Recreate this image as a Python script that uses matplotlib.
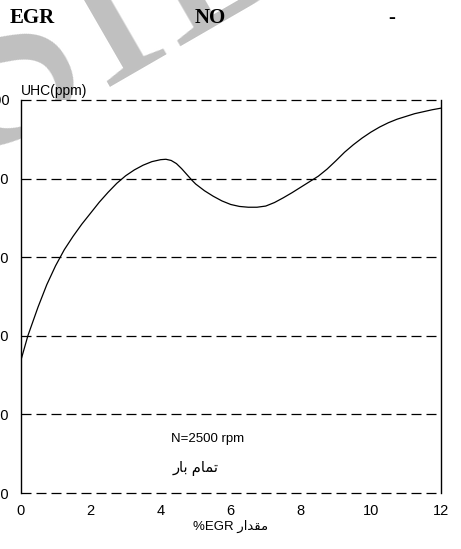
import numpy as np
import matplotlib
matplotlib.use('Agg')
from matplotlib import pyplot as plt

# EGR percentage vs unburned hydrocarbons
egr_pct = [0.0, 0.21, 0.5, 0.75, 1.0, 1.25, 1.5, 1.75, 2.0, 2.25, 2.5, 2.75, 3.0,
           3.25, 3.5, 3.75, 4.0, 4.15, 4.3, 4.45, 4.6, 4.75, 4.9, 5.0, 5.25, 5.5,
           5.75, 6.0, 6.25, 6.5, 6.75, 7.0, 7.25, 7.5, 7.75, 8.0, 8.25, 8.5, 8.75,
           9.0, 9.25, 9.5, 9.75, 10.0, 10.25, 10.5, 10.75, 11.0, 11.25, 11.5,
           11.75, 12.0]
uhc_ppm = [133.4, 140.0, 147.3, 153.0, 157.8, 161.9, 165.3, 168.4, 171.2, 174.0,
           176.5, 178.8, 180.7, 182.2, 183.4, 184.3, 184.8, 184.9, 184.6, 183.8,
           182.5, 181.0, 179.5, 178.6, 176.9, 175.5, 174.3, 173.4, 172.9, 172.7,
           172.7, 173.0, 173.9, 175.1, 176.4, 177.8, 179.2, 180.6, 182.4, 184.5,
           186.7, 188.6, 190.3, 191.8, 193.1, 194.2, 195.1, 195.8, 196.5, 197.0,
           197.5, 197.9]
x_ticks = [0, 2, 4, 6, 8, 10, 12]
y_ticks = [100, 120, 140, 160, 180, 200]

plt.rcParams['font.family'] = ['Liberation Sans', 'DejaVu Sans']
plt.rcParams['lines.scale_dashes'] = False

fig = plt.figure(figsize=(4.61, 5.49), dpi=100)

# watermark, sits behind the white plot area
fig.text(-20 / 461, 1 - 152 / 549, 'SID', rotation=30, fontsize=180, color='#c0c0c0',
         family='Liberation Serif', ha='left', va='baseline',
         rotation_mode='anchor', zorder=-1)

ax = fig.add_axes([0.0445, 0.102, 0.912, 0.716])
ax.set_facecolor('white')
ax.plot(egr_pct, uhc_ppm, color='black', lw=0.9)
ax.set_xlim(0, 12)
ax.set_ylim(100, 200)
ax.set_xticks(x_ticks)
ax.set_yticks(y_ticks)
ax.tick_params(length=0, labelsize=10.5, pad=8)
ax.grid(axis='y', color='black', lw=0.9, linestyle=(0, (7.2, 3.6)))
ax.spines['top'].set_visible(False)
ax.spines['bottom'].set_visible(False)
for s in ['left', 'right']:
    ax.spines[s].set_linewidth(1.0)
for gl in ax.get_ygridlines():
    gl.set_clip_on(False)

ax.text(0.0, 1.005, 'UHC(ppm)', transform=ax.transAxes, fontsize=10,
        ha='left', va='bottom')
ax.text(4.29, 113.7, 'N=2500 rpm', fontsize=9.5, ha='left', va='center')
# Arabic text given in visual order with presentation forms
ax.text(4.35, 106.3, '\ufead\ufe8e\ufe91 \ufee1\ufe8e\ufee4\ufe97', fontsize=10.5,
        ha='left', va='center')
ax.set_xlabel('%EGR \ufead\ufe8d\ufeaa\ufed8\ufee3', fontsize=9.5, labelpad=1)

title_kw = dict(fontsize=15, fontweight='bold', family='Liberation Serif', va='center')
fig.text(10 / 461, 1 - 18 / 549, 'EGR', **title_kw)
fig.text(195 / 461, 1 - 18 / 549, 'NO', **title_kw)
fig.text(388 / 461, 1 - 18 / 549, '-', **title_kw)

fig.savefig('out.png', dpi=100)
